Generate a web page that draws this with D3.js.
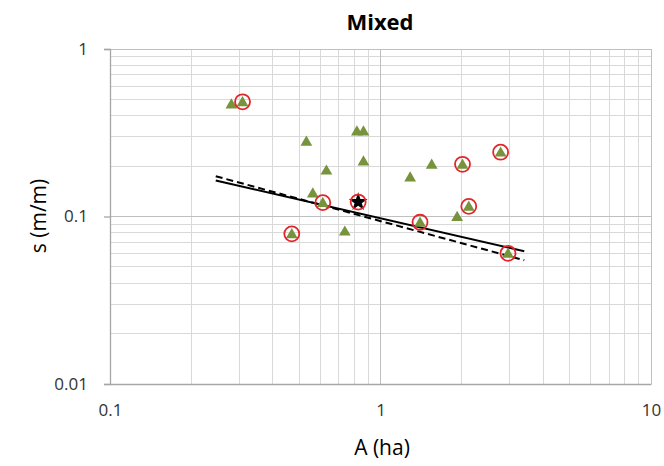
<!DOCTYPE html>
<html><head><meta charset="utf-8">
<script src="https://cdn.jsdelivr.net/npm/d3@7"></script>
<style>body{margin:0;background:#fff}svg{display:block}text{font-family:"Open Sans","Noto Sans",sans-serif}</style>
</head><body><svg id="c" width="664" height="466"></svg>
<script>
// Data
const triA   = [0.281, 0.309, 0.532, 0.818, 0.865, 0.865, 0.631, 0.562, 0.612, 0.470, 0.738, 1.287, 1.546, 2.01, 2.78, 2.12, 1.92, 1.40, 2.96];
const triS   = [0.469, 0.484, 0.281, 0.324, 0.324, 0.214, 0.189, 0.138, 0.121, 0.0788, 0.0817, 0.172, 0.205, 0.205, 0.242, 0.115, 0.100, 0.0924, 0.0603];
const circA  = [0.309, 0.612, 0.470, 0.827, 2.01, 2.78, 2.12, 1.40, 2.96];
const circS  = [0.484, 0.121, 0.0788, 0.122, 0.205, 0.242, 0.115, 0.0924, 0.0603];
const starA  = [0.827];
const starS  = [0.122];
const fitA   = [0.246, 3.40];
const fitSolid  = [0.164, 0.062];
const fitDashed = [0.174, 0.0548];
const xTicks = [0.1, 1, 10];
const yTicks = [0.01, 0.1, 1];
const title = "Mixed", xTitle = "A (ha)", yTitle = "s (m/m)";

const svg = d3.select("#c");
const x = d3.scaleLog().domain([0.1, 10]).range([110, 651]);
const y = d3.scaleLog().domain([0.01, 1]).range([384, 49]);

const minor = (lo, hi) => { const o=[]; for (let e=lo;e<hi;e++) for (let m=2;m<=9;m++) o.push(m*Math.pow(10,e)); return o; };
const g = svg.append("g");
g.selectAll(".vx").data(minor(-1,1)).join("line")
  .attr("x1", d=>x(d)).attr("x2", d=>x(d)).attr("y1", y(1)).attr("y2", y(0.01))
  .attr("stroke", "#d9d9d9").attr("stroke-width", 1).attr("shape-rendering","crispEdges");
g.selectAll(".hy").data(minor(-2,0)).join("line")
  .attr("y1", d=>y(d)).attr("y2", d=>y(d)).attr("x1", x(0.1)).attr("x2", x(10))
  .attr("stroke", "#d9d9d9").attr("stroke-width", 1).attr("shape-rendering","crispEdges");
g.selectAll(".mx").data(xTicks).join("line")
  .attr("x1", d=>x(d)).attr("x2", d=>x(d)).attr("y1", y(1)).attr("y2", y(0.01))
  .attr("stroke", "#bfbfbf").attr("stroke-width", 1).attr("shape-rendering","crispEdges");
g.selectAll(".my").data(yTicks).join("line")
  .attr("y1", d=>y(d)).attr("y2", d=>y(d)).attr("x1", x(0.1)).attr("x2", x(10))
  .attr("stroke", "#bfbfbf").attr("stroke-width", 1).attr("shape-rendering","crispEdges");

const xAxis = d3.axisBottom(x).tickValues(xTicks).tickFormat(d3.format("~g")).tickSize(0).tickPadding(20);
const yAxis = d3.axisLeft(y).tickValues(yTicks).tickFormat(d3.format("~g")).tickSize(6).tickPadding(16);
const ax = svg.append("g").attr("transform", `translate(0,${y(0.01)})`).call(xAxis);
const ay = svg.append("g").attr("transform", `translate(${x(0.1)},0)`).call(yAxis);
[ax, ay].forEach(a => {
  a.select(".domain").attr("stroke", "#a6a6a6").attr("stroke-width", 1.3);
  a.selectAll(".tick line").attr("stroke", "#a6a6a6").attr("stroke-width", 1.3);
  a.selectAll("text").attr("font-size", 17).attr("fill", "#333");
});

const line = d3.line().x(d=>x(d[0])).y(d=>y(d[1]));
svg.append("path").datum(d3.zip(fitA, fitDashed)).attr("d", line)
  .attr("fill","none").attr("stroke","#000").attr("stroke-width",2).attr("stroke-dasharray","7,4");
svg.append("path").datum(d3.zip(fitA, fitSolid)).attr("d", line)
  .attr("fill","none").attr("stroke","#000").attr("stroke-width",2);

const tri = d3.symbol().type(d3.symbolTriangle).size(60);
svg.selectAll(".tri").data(d3.zip(triA, triS)).join("path")
  .attr("d", tri).attr("transform", d=>`translate(${x(d[0])},${y(d[1])+1})`)
  .attr("fill", "#77933c");

const star = d3.symbol().type(d3.symbolStar).size(110);
svg.selectAll(".star").data(d3.zip(starA, starS)).join("path")
  .attr("d", star).attr("transform", d=>`translate(${x(d[0])},${y(d[1])})`)
  .attr("fill", "#000");

svg.selectAll(".circ").data(d3.zip(circA, circS)).join("circle")
  .attr("cx", d=>x(d[0])).attr("cy", d=>y(d[1])).attr("r", 7.5)
  .attr("fill", "none").attr("stroke", "#e3262b").attr("stroke-width", 1.8);

svg.append("text").attr("x", 380).attr("y", 30).attr("text-anchor","middle")
  .attr("font-size", 22).attr("font-weight","bold").attr("fill","#000").text(title);
svg.append("text").attr("x", 382).attr("y", 455).attr("text-anchor","middle")
  .attr("font-size", 21).attr("fill","#000").text(xTitle);
svg.append("text").attr("transform", "translate(46,216) rotate(-90)").attr("text-anchor","middle")
  .attr("font-size", 21).attr("fill","#000").text(yTitle);
</script></body></html>
